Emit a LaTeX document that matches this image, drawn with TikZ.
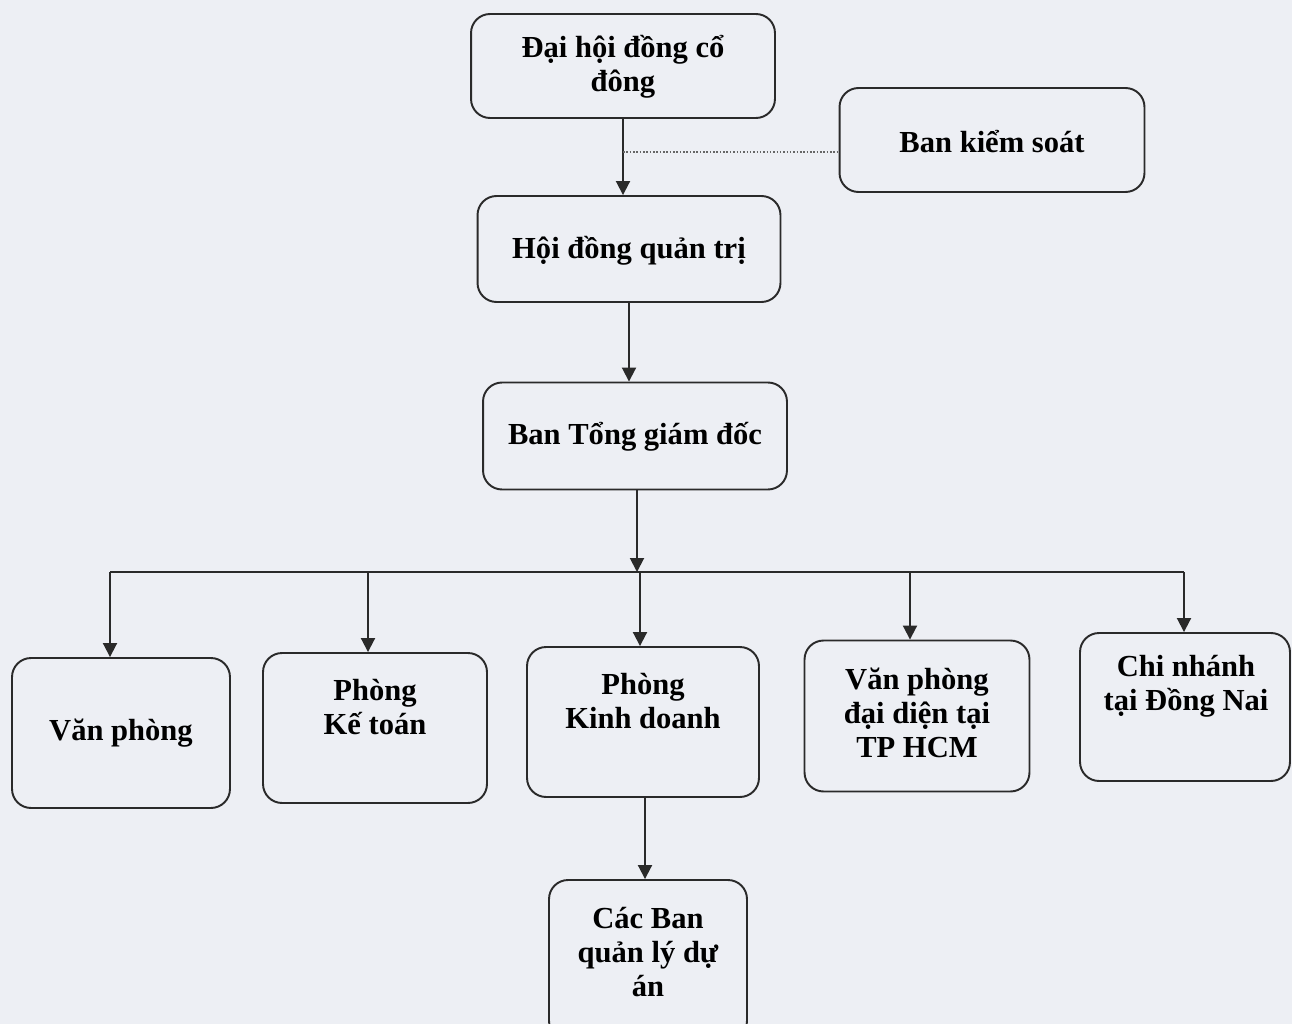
\documentclass[tikz,border=0pt]{standalone}
\usepackage{fontspec}
\setmainfont{Liberation Serif}
\usetikzlibrary{arrows.meta}
\definecolor{bgc}{HTML}{EDEFF4}
\definecolor{ink}{HTML}{2A2A2A}
\begin{document}
\begin{tikzpicture}[x=0.02cm,y=-0.02cm,
  box/.style={draw=ink, rounded corners=0.38cm, line width=1.1pt, inner sep=0pt},
  lbl/.style={font=\fontsize{17.4}{19.5}\selectfont\bfseries, align=center, text=black, inner sep=0pt},
  arr/.style={draw=ink, line width=1.1pt, -{Triangle[length=0.28cm,width=0.28cm]}},
  ln/.style={draw=ink, line width=1.1pt}]
\fill[bgc] (0,0) rectangle (1292,1024);
\useasboundingbox (0,0) rectangle (1292,1024);
\clip (0,0) rectangle (1292,1024);
% boxes
\node[box, minimum width=6.08cm, minimum height=2.08cm] (dh) at (623,66) {};
\node[box, minimum width=6.1cm, minimum height=2.08cm] (bks) at (992,140) {};
\node[box, minimum width=6.06cm, minimum height=2.12cm] (hdqt) at (629,249) {};
\node[box, minimum width=6.08cm, minimum height=2.14cm] (tgd) at (635,436) {};
\node[box, minimum width=4.36cm, minimum height=3.0cm] (vp) at (121,733) {};
\node[box, minimum width=4.48cm, minimum height=3.0cm] (kt) at (375,728) {};
\node[box, minimum width=4.64cm, minimum height=3.0cm] (kd) at (643,722) {};
\node[box, minimum width=4.5cm, minimum height=3.02cm] (vpdd) at (917,716) {};
\node[box, minimum width=4.2cm, minimum height=2.96cm] (cn) at (1185,707) {};
\node[box, minimum width=3.96cm, minimum height=3.2cm] (cb) at (648,960) {};
% labels
\node[lbl] (tdh) at (623,67) {Đại hội đồng cổ\\đông};
\node[lbl] (tbks) at (992,142) {Ban kiểm soát};
\node[lbl] (thdqt) at (629,251) {Hội đồng quản trị};
\node[lbl] (ttgd) at (635,437) {Ban Tổng giám đốc};
\node[lbl] (tvp) at (121,733) {Văn phòng};
\node[lbl] (tkt) at (375,707) {Phòng\\Kế toán};
\node[lbl] (tkd) at (643,701) {Phòng\\Kinh doanh};
\node[lbl] (tvpdd) at (917,713) {Văn phòng\\đại diện tại\\TP HCM};
\node[lbl] (tcn) at (1186,686) {Chi nhánh\\tại Đồng Nai};
\node[lbl] (tcb) at (648,952) {Các Ban\\quản lý dự\\án};
% connectors
\draw[arr] (dh.south) -- (dh.south |- hdqt.north);
\coordinate (j) at (623,152);
\draw[draw=gray!80!black, line width=0.9pt, densely dotted] (j) -- (j -| bks.west);
\draw[arr] (hdqt.south) -- (hdqt.south |- tgd.north);
\coordinate (bl) at (110,572);
\coordinate (br) at (1184,572);
\coordinate (bm) at (637,572);
\draw[arr] (tgd.south -| bm) -- (bm);
\draw[ln] (bl) -- (br);
\coordinate (b2) at (368,572);
\coordinate (b3) at (640,572);
\coordinate (b4) at (910,572);
\draw[arr] (bl) -- (bl |- vp.north);
\draw[arr] (b2) -- (b2 |- kt.north);
\draw[arr] (b3) -- (b3 |- kd.north);
\draw[arr] (b4) -- (b4 |- vpdd.north);
\draw[arr] (br) -- (br |- cn.north);
\coordinate (k) at (645,797);
\draw[arr] (k) -- (k |- cb.north);
\end{tikzpicture}
\end{document}
